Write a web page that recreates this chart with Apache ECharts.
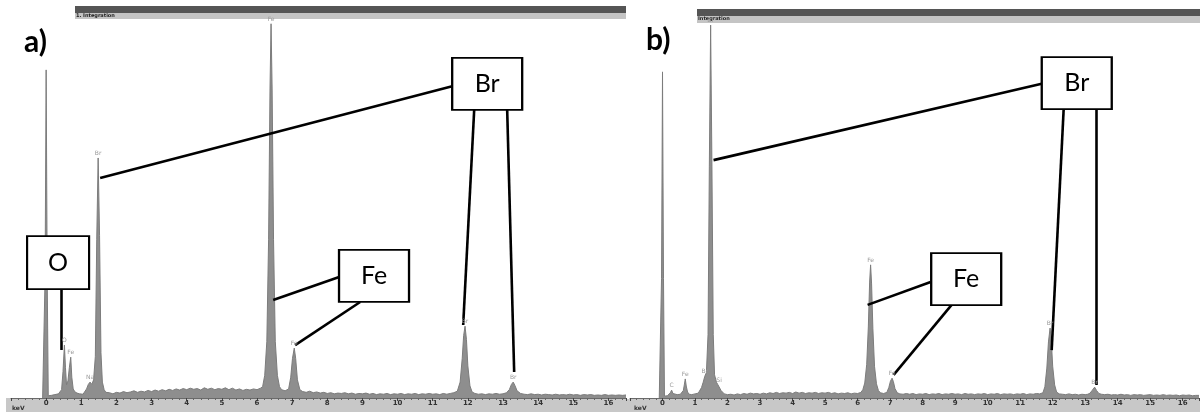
<!DOCTYPE html>
<html>
<head>
<meta charset="utf-8">
<script src="https://cdn.jsdelivr.net/npm/echarts@6.0.0/dist/echarts.min.js"></script>
<style>
html,body{margin:0;padding:0;background:#fff;}
#chart{width:1200px;height:412px;}
</style>
</head>
<body>
<div id="chart"></div>
<script>
// ---- Data: EDX spectra, [energy keV, counts (relative units 0-1000)] ----
const spectrumA = [
[-0.1,0],[-0.06,0],[-0.03,320],[0,868],[0.03,320],[0.06,6],
[0.1,5],[0.15,7],[0.2,6],[0.25,9],[0.3,8],[0.35,11],[0.4,14],[0.44,22],[0.48,70],[0.52,140],[0.55,80],[0.58,35],[0.62,45],[0.66,80],[0.7,108],[0.73,55],[0.77,24],[0.82,16],[0.88,13],[0.95,11],[1.0,12],[1.05,10],[1.1,15],[1.15,24],[1.2,36],[1.25,42],[1.3,36],[1.35,48],[1.4,110],[1.44,420],[1.48,635],[1.52,430],[1.56,120],[1.6,42],[1.65,22],[1.7,15],[1.75,12],[1.8,14],[1.9,11],
[2.0,15],[2.1,13],[2.2,17],[2.3,14],[2.4,16],[2.5,19],[2.6,15],[2.7,18],[2.8,16],[2.9,20],[3.0,17],[3.1,21],[3.2,18],[3.3,22],[3.4,19],[3.5,23],[3.6,20],[3.7,24],[3.8,21],[3.9,25],[4.0,22],[4.1,26],[4.2,23],[4.3,25],[4.4,21],[4.5,27],[4.6,23],[4.7,26],[4.8,22],[4.9,25],[5.0,23],[5.1,27],[5.2,22],[5.3,26],[5.4,21],[5.5,24],[5.6,20],[5.7,23],[5.8,21],[5.9,24],[6.0,22],[6.1,26],
[6.16,30],[6.22,60],[6.28,150],[6.33,420],[6.37,820],[6.4,990],[6.43,820],[6.47,420],[6.52,150],[6.58,60],[6.64,30],[6.7,22],[6.8,19],[6.9,24],[6.96,55],[7.01,105],[7.06,132],[7.1,105],[7.15,48],[7.22,22],[7.3,17],[7.4,15],[7.5,18],[7.6,14],[7.7,16],[7.8,13],[7.9,15],
[8.0,12],[8.1,14],[8.2,11],[8.3,13],[8.4,12],[8.5,14],[8.6,11],[8.7,13],[8.8,10],[8.9,12],[9.0,11],[9.1,13],[9.2,10],[9.3,12],[9.4,9],[9.5,11],[9.6,10],[9.7,12],[9.8,9],[9.9,11],[10.0,10],[10.1,12],[10.2,9],[10.3,11],[10.4,10],[10.5,12],[10.6,9],[10.7,11],[10.8,10],[10.9,12],[11.0,10],[11.1,11],[11.2,9],[11.3,12],[11.4,10],[11.5,12],[11.6,14],[11.7,18],
[11.78,42],[11.84,105],[11.88,165],[11.92,190],[11.96,155],[12.0,85],[12.06,32],[12.12,16],[12.2,12],[12.3,10],[12.4,11],[12.5,9],[12.6,11],[12.7,10],[12.8,12],[12.9,10],[13.0,11],[13.1,14],[13.18,22],[13.24,36],[13.29,42],[13.34,33],[13.4,19],[13.5,12],[13.6,10],[13.7,9],[13.8,11],[13.9,9],
[14.0,10],[14.1,8],[14.2,10],[14.3,9],[14.4,8],[14.5,10],[14.6,8],[14.7,9],[14.8,8],[14.9,10],[15.0,8],[15.1,9],[15.2,7],[15.3,9],[15.4,8],[15.5,9],[15.6,7],[15.7,8],[15.8,7],[15.9,9],[16.0,7],[16.1,8],[16.2,7],[16.3,8],[16.4,7],[16.5,8]
];
const spectrumB = [
[-0.1,0],[-0.06,0],[-0.03,320],[0,872],[0.03,320],[0.06,5],
[0.1,4],[0.15,6],[0.2,8],[0.24,14],[0.28,21],[0.32,12],[0.38,8],[0.45,9],[0.5,8],[0.55,10],[0.6,12],[0.64,20],[0.67,35],[0.7,51],[0.73,32],[0.77,16],[0.82,10],[0.9,9],[1.0,11],[1.05,10],[1.1,13],[1.15,18],[1.2,28],[1.25,42],[1.3,58],[1.35,68],[1.4,170],[1.44,620],[1.48,997],[1.52,620],[1.56,170],[1.6,62],[1.66,42],[1.7,36],[1.74,34],[1.8,20],[1.9,11],
[2.0,9],[2.1,10],[2.2,8],[2.3,11],[2.4,9],[2.5,12],[2.6,10],[2.7,13],[2.8,11],[2.9,12],[3.0,10],[3.1,13],[3.2,11],[3.3,14],[3.4,12],[3.5,15],[3.6,12],[3.7,14],[3.8,13],[3.9,15],[4.0,12],[4.1,16],[4.2,13],[4.3,15],[4.4,12],[4.5,14],[4.6,13],[4.7,15],[4.8,12],[4.9,14],[5.0,13],[5.1,15],[5.2,12],[5.3,14],[5.4,11],[5.5,13],[5.6,12],[5.7,14],[5.8,11],[5.9,13],[6.0,12],[6.1,15],
[6.16,22],[6.22,40],[6.28,90],[6.33,190],[6.37,310],[6.4,356],[6.43,305],[6.47,185],[6.52,85],[6.58,38],[6.64,20],[6.7,14],[6.8,12],[6.9,15],[6.96,28],[7.01,45],[7.06,53],[7.1,44],[7.15,25],[7.22,14],[7.3,11],[7.4,10],[7.5,12],[7.6,10],[7.7,12],[7.8,9],[7.9,11],
[8.0,10],[8.1,12],[8.2,9],[8.3,11],[8.4,10],[8.5,12],[8.6,9],[8.7,11],[8.8,10],[8.9,12],[9.0,10],[9.1,11],[9.2,9],[9.3,12],[9.4,10],[9.5,11],[9.6,9],[9.7,11],[9.8,10],[9.9,12],[10.0,9],[10.1,11],[10.2,10],[10.3,12],[10.4,9],[10.5,11],[10.6,10],[10.7,11],[10.8,9],[10.9,11],[11.0,10],[11.1,12],[11.2,9],[11.3,11],[11.4,10],[11.5,12],[11.6,11],[11.7,14],
[11.76,30],[11.82,80],[11.87,150],[11.92,187],[11.96,150],[12.0,85],[12.06,35],[12.12,16],[12.2,11],[12.3,10],[12.4,9],[12.5,11],[12.6,9],[12.7,10],[12.8,8],[12.9,10],[13.0,9],[13.08,10],[13.15,13],[13.22,21],[13.29,29],[13.35,20],[13.42,12],[13.5,10],[13.6,9],[13.7,10],[13.8,8],[13.9,9],
[14.0,8],[14.1,10],[14.2,8],[14.3,9],[14.4,7],[14.5,9],[14.6,8],[14.7,9],[14.8,7],[14.9,8],[15.0,9],[15.1,7],[15.2,8],[15.3,7],[15.4,9],[15.5,7],[15.6,8],[15.7,7],[15.8,8],[15.9,6],[16.0,8],[16.1,7],[16.2,8],[16.3,6],[16.4,7],[16.5,7]
];
// small element tags printed by the instrument above peaks: [keV, counts, text]
const peakTagsA = [[0.52,140,'O'],[0.7,108,'Fe'],[1.25,42,'Na'],[1.48,635,'Br'],[6.4,990,'Fe'],[7.06,132,'Fe'],[11.92,190,'Br'],[13.29,42,'Br']];
const peakTagsB = [[0.28,21,'C'],[0.7,51,'Fe'],[1.3,58,'Br'],[1.74,34,'Si'],[1.48,997,'Br'],[6.4,356,'Fe'],[7.06,53,'Fe'],[11.92,187,'Br'],[13.29,29,'Br']];
// annotation boxes: [keV, counts (centre), text]
const boxesA = [[0.34,358,'O'],[12.55,831,'Br'],[9.33,323,'Fe']];
const boxesB = [[12.74,842,'Br'],[9.34,318,'Fe']];
// leader lines: [keV1, counts1, keV2, counts2]
const leadersA = [[0.427,288,0.427,127],[11.554,825,1.537,582],[12.18,762,11.867,193],[13.119,762,13.318,69],[8.338,320,6.46,259],[8.936,254,7.086,140]];
const leadersB = [[11.662,840,1.569,636],[12.338,773,11.969,128],[13.354,773,13.354,35],[8.246,310,6.308,249],[8.892,249,7.108,62]];
const tickLabelsShown = [0,1,2,3,4,5,6,7,8,9,10,11,12,13,14,15,16];

const chart = echarts.init(document.getElementById('chart'), null, {renderer:'canvas'});
const FONT = 'Lato, "Open Sans", sans-serif';

function boxSize(t){ return t === 'O' ? [62,53] : [70,52]; }

function buildMarkPoints(boxes, tags){
  const data = [];
  boxes.forEach(b => data.push({
    coord:[b[0],b[1]], symbol:'rect', symbolSize:boxSize(b[2]),
    itemStyle:{color:'#fff', borderColor:'#000', borderWidth:2},
    label:{show:true, position:'inside', formatter:b[2], fontSize:25, color:'#000', fontFamily:FONT}
  }));
  tags.forEach(t => data.push({
    coord:[t[0],t[1]], symbol:'circle', symbolSize:1,
    itemStyle:{color:'rgba(0,0,0,0)'},
    label:{show:true, position:'top', distance:1, formatter:t[2], fontSize:6, color:'#9a9a9a', fontFamily:'DejaVu Sans'}
  }));
  return {silent:true, data:data, animation:false};
}
function buildMarkLines(leaders){
  return {
    silent:true, symbol:['none','none'], animation:false,
    lineStyle:{color:'#000', width:2.6, type:'solid'},
    label:{show:false},
    data: leaders.map(l => [{coord:[l[0],l[1]]},{coord:[l[2],l[3]]}])
  };
}
function xAxisFor(gi){
  return {
    type:'value', gridIndex:gi, min:-1, max:16.5, interval:1, z:5,
    axisLine:{show:true, lineStyle:{color:'#6a6a6a', width:1}},
    axisTick:{show:true, inside:false, length:3, lineStyle:{color:'#444'}},
    minorTick:{show:true, splitNumber:5, length:2, lineStyle:{color:'#666'}},
    splitLine:{show:false},
    axisLabel:{show:true, margin:2, fontSize:7, fontWeight:'bold', color:'#333', fontFamily:'DejaVu Sans',
      showMaxLabel:false,
      formatter:v => tickLabelsShown.indexOf(v) >= 0 ? String(v) : ''}
  };
}
function yAxisFor(gi){
  return {type:'value', gridIndex:gi, min:0, max:1000, show:false};
}
function spectrumSeries(gi, data, boxes, tags, leaders){
  return {
    type:'line', xAxisIndex:gi, yAxisIndex:gi, data:data,
    showSymbol:false, symbol:'none', smooth:false, sampling:null,
    lineStyle:{color:'#7c7c7c', width:1},
    areaStyle:{color:'#8e8e8e', opacity:1},
    z:2,
    markPoint:buildMarkPoints(boxes, tags),
    markLine:buildMarkLines(leaders)
  };
}

const option = {
  animation:false,
  backgroundColor:'#fff',
  grid:[
    {left:11, width:615, top:20, bottom:14, containLabel:false},
    {left:630, width:569, top:24, bottom:14, containLabel:false}
  ],
  xAxis:[xAxisFor(0), xAxisFor(1)],
  yAxis:[yAxisFor(0), yAxisFor(1)],
  series:[
    spectrumSeries(0, spectrumA, boxesA, peakTagsA, leadersA),
    spectrumSeries(1, spectrumB, boxesB, peakTagsB, leadersB)
  ],
  graphic:[
    // bottom instrument bands
    {type:'rect', z:0, shape:{x:6,y:398,width:621,height:14}, style:{fill:'#c8c8c8'}},
    {type:'rect', z:0, shape:{x:627,y:399,width:573,height:13}, style:{fill:'#c8c8c8'}},
    {type:'text', z:6, style:{x:12,y:405,text:'keV',fontSize:6,fontWeight:'bold',fill:'#333',fontFamily:'DejaVu Sans'}},
    {type:'text', z:6, style:{x:634,y:405,text:'keV',fontSize:6,fontWeight:'bold',fill:'#333',fontFamily:'DejaVu Sans'}},
    // top title bars
    {type:'rect', z:0, shape:{x:75,y:6,width:551,height:7}, style:{fill:'#555'}},
    {type:'rect', z:0, shape:{x:75,y:13,width:551,height:6}, style:{fill:'#c4c4c4'}},
    {type:'text', z:1, style:{x:76,y:13,text:'1. Integration',fontSize:5,fontWeight:'bold',fill:'#222',fontFamily:'DejaVu Sans'}},
    {type:'rect', z:0, shape:{x:697,y:9,width:503,height:7}, style:{fill:'#555'}},
    {type:'rect', z:0, shape:{x:697,y:16,width:503,height:7}, style:{fill:'#c4c4c4'}},
    {type:'text', z:1, style:{x:698,y:16,text:'Integration',fontSize:5,fontWeight:'bold',fill:'#222',fontFamily:'DejaVu Sans'}},
    // panel letters
    {type:'text', z:10, style:{x:24,y:27,text:'a)',fontSize:30,fontWeight:'bold',fill:'#000',fontFamily:FONT}},
    {type:'text', z:10, style:{x:646,y:25,text:'b)',fontSize:30,fontWeight:'bold',fill:'#000',fontFamily:FONT}}
  ]
};
chart.setOption(option);
</script>
</body>
</html>
